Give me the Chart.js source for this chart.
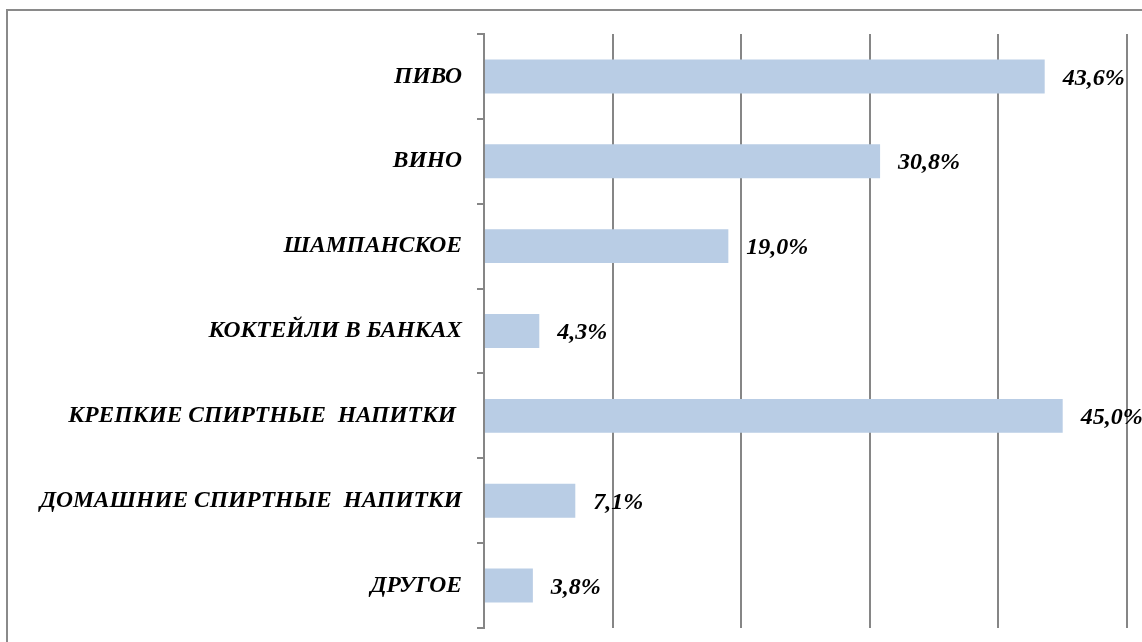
<!DOCTYPE html>
<html lang="ru">
<head>
    <meta charset="UTF-8">
    <title>Напитки</title>
    <script src="https://cdn.jsdelivr.net/npm/chart.js"></script>
    <style>
        html, body { margin: 0; padding: 0; background: #fff; }
        #wrap { width: 1142px; height: 642px; position: relative; }
    </style>
</head>
<body>
    <div id="wrap"><canvas id="chart" width="1142" height="642"></canvas></div>

    <script>
        // Data
        const categories = ['ПИВО', 'ВИНО', 'ШАМПАНСКОЕ', 'КОКТЕЙЛИ В БАНКАХ', 'КРЕПКИЕ СПИРТНЫЕ  НАПИТКИ ', 'ДОМАШНИЕ СПИРТНЫЕ  НАПИТКИ', 'ДРУГОЕ'];
        const shares = [43.6, 30.8, 19.0, 4.3, 45.0, 7.1, 3.8];
        const axisMax = 50;
        const axisStep = 10;

        const fontFamily = '"Liberation Serif", "Times New Roman", serif';
        const gridColor = '#868686';

        // Frame around the whole chart
        const framePlugin = {
            id: 'frame',
            beforeDraw(chart) {
                const ctx = chart.ctx;
                ctx.save();
                ctx.strokeStyle = '#8a8a8a';
                ctx.lineWidth = 2;
                ctx.strokeRect(7, 10, chart.width + 20, chart.height + 20);
                ctx.restore();
            }
        };

        // Value labels next to each bar
        const valueLabels = {
            id: 'valueLabels',
            afterDatasetsDraw(chart) {
                const ctx = chart.ctx;
                const meta = chart.getDatasetMeta(0);
                ctx.save();
                ctx.font = 'italic bold 24px ' + fontFamily;
                ctx.fillStyle = '#000';
                ctx.textBaseline = 'middle';
                meta.data.forEach((bar, i) => {
                    const txt = shares[i].toFixed(1).replace('.', ',') + '%';
                    ctx.fillText(txt, bar.x + 18, bar.y + 2);
                });
                ctx.restore();
            }
        };

        new Chart(document.getElementById('chart'), {
            type: 'bar',
            data: {
                labels: categories,
                datasets: [{
                    data: shares,
                    backgroundColor: '#B9CDE5',
                    borderWidth: 0,
                    categoryPercentage: 1.0,
                    barPercentage: 0.4
                }]
            },
            options: {
                indexAxis: 'y',
                responsive: false,
                animation: false,
                layout: { padding: { left: 0, right: 15, top: 34, bottom: 14 } },
                plugins: {
                    legend: { display: false },
                    tooltip: { enabled: false }
                },
                scales: {
                    x: {
                        min: 0,
                        max: axisMax,
                        afterFit(scale) { scale.height = 0; },
                        ticks: { display: false, stepSize: axisStep },
                        grid: { color: gridColor, lineWidth: 2, drawTicks: false },
                        border: { display: false }
                    },
                    y: {
                        afterFit(scale) {
                            scale.width = 484;
                            scale.paddingTop = 0;
                            scale.paddingBottom = 0;
                        },
                        ticks: {
                            color: '#000',
                            padding: 15,
                            font: { family: fontFamily, size: 23.5, style: 'italic', weight: 'bold' }
                        },
                        grid: { drawOnChartArea: false, drawTicks: true, tickLength: 7, color: gridColor, lineWidth: 2 },
                        border: { display: true, color: gridColor, width: 2 }
                    }
                }
            },
            plugins: [framePlugin, valueLabels]
        });
    </script>
</body>
</html>
